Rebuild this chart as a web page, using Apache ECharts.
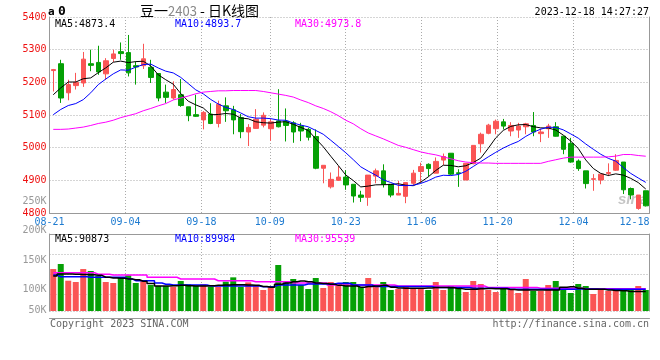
<!DOCTYPE html>
<html><head><meta charset="utf-8">
<script src="https://cdn.jsdelivr.net/npm/echarts@6/dist/echarts.min.js"></script>
<style>html,body{margin:0;padding:0;background:#fff}#c{width:660px;height:360px}</style>
</head><body><div id="c"></div>
<script>
const dates = ['08-21','08-22','08-23','08-24','08-25','08-28','08-29','08-30','08-31','09-01',
'09-04','09-05','09-06','09-07','09-08','09-11','09-12','09-13','09-14','09-15',
'09-18','09-19','09-20','09-21','09-22','09-25','09-26','09-27','09-28','10-09',
'10-10','10-11','10-12','10-13','10-16','10-17','10-18','10-19','10-20','10-23',
'10-24','10-25','10-26','10-27','10-30','10-31','11-01','11-02','11-03','11-06',
'11-07','11-08','11-09','11-10','11-13','11-14','11-15','11-16','11-17','11-20',
'11-21','11-22','11-23','11-24','11-27','11-28','11-29','11-30','12-01','12-04',
'12-05','12-06','12-07','12-08','12-11','12-12','12-13','12-14','12-15','12-18'];
const tickDates = ['08-21','09-04','09-18','10-09','10-23','11-06','11-20','12-04','12-18'];
const priceTicks = [4800, 5400, 100];
const volTicks = [50000, 250000, 50000];

const open  = [5236,5257,5168,5190,5198,5257,5261,5226,5273,5294,5291,5251,5251,5246,5227,5170,5152,5162,5125,5101,
5085,5103,5074,5128,5116,5092,5048,5059,5069,5058,5082,5081,5076,5066,5056,5034,4937,4880,4900,4910,
4888,4855,4848,4913,4929,4888,4855,4851,4891,4927,4949,4922,4962,4983,4923,4901,4951,5012,5044,5058,
5079,5051,5054,5064,5068,5043,5058,5064,5035,5013,4959,4929,4903,4901,4921,4931,4956,4875,4814,4868];
const close = [5239,5152,5193,5200,5271,5252,5232,5266,5287,5288,5229,5247,5272,5215,5152,5154,5178,5129,5098,5096,
5108,5074,5133,5113,5085,5049,5062,5087,5099,5079,5064,5068,5048,5051,5032,4937,4946,4903,4910,4886,
4852,4848,4916,4929,4888,4855,4860,4893,4922,4942,4936,4958,4973,4919,4921,4952,5007,5041,5069,5081,
5066,5068,5066,5073,5048,5048,5066,5035,4995,4956,4936,4890,4905,4919,4924,4961,4871,4855,4855,4822];
const low   = [5172,5137,5145,5178,5186,5234,5223,5208,5262,5269,5218,5193,5241,5198,5142,5137,5147,5125,5081,5094,
5056,5072,5062,5079,5041,5029,5005,5058,5062,5021,5062,5019,5015,5020,5022,4934,4891,4875,4898,4871,
4832,4834,4822,4891,4878,4848,4855,4830,4885,4893,4912,4922,4947,4916,4880,4901,4949,4985,5041,5041,
5056,5035,5030,5041,5035,5017,5030,5034,4980,4954,4929,4875,4868,4888,4913,4929,4858,4842,4810,4820];
const high  = [5241,5269,5208,5229,5293,5300,5312,5274,5300,5322,5345,5264,5318,5269,5227,5193,5203,5210,5125,5162,
5112,5136,5144,5154,5128,5103,5072,5118,5108,5089,5179,5120,5081,5076,5061,5056,4946,4924,4944,4931,
4888,4868,4916,4936,4949,4888,4898,4893,4932,4954,4952,4970,4982,4983,4934,4952,5007,5046,5073,5086,
5088,5078,5076,5076,5109,5058,5073,5078,5035,5030,4964,4929,4919,4919,4952,4980,4956,4878,4855,4868];

const ma5  = [5162,5183,5201,5201,5211,5213.6,5229.6,5244.2,5261.6,5265,5260.4,5263.4,5264.6,5250.2,5223,5208,5194.2,5165.6,5142.2,5131,
5121.6,5100.8,5101.6,5104.6,5102.4,5090.8,5088.4,5079.2,5076.4,5075.2,5078.2,5079.4,5071.6,5062,5052.6,5027.2,5002.8,4973.8,4945.6,4916.4,
4899.4,4879.8,4882.4,4886.2,4886.6,4887.2,4889.6,4885,4883.6,4894.4,4910.6,4930.2,4946.2,4945.6,4941.4,4944.6,4954.4,4968,4998,5030,
5052.8,5065,5070,5070.8,5064.2,5060.6,5060.2,5054,5038.4,5020,4997.6,4962.4,4936.4,4921.2,4914.8,4919.8,4916,4906,4893.2,4873.4];
const ma10 = [5101,5117,5129,5135,5147,5168,5193,5210,5226,5238,5237,5246.5,5254.4,5255.9,5244,5234.2,5228.8,5215.1,5196.2,5177,
5164.8,5147.5,5133.6,5123.4,5116.7,5106.2,5094.6,5090.4,5090.5,5088.8,5084.5,5083.9,5075.4,5069.2,5063.9,5052.7,5041.1,5022.7,5003.8,4984.5,
4963.3,4941.3,4928.1,4915.9,4901.5,4893.3,4884.7,4883.7,4884.9,4890.5,4898.9,4909.9,4915.6,4914.6,4917.9,4927.6,4942.3,4957.1,4971.8,4985.7,
4998.7,5009.7,5019,5034.4,5047.1,5056.7,5062.6,5062,5054.6,5042.1,5029.1,5011.3,4995.2,4979.8,4967.4,4958.7,4939.2,4921.2,4907.2,4893.7];
const ma30 = [5056,5056,5057,5060,5063,5068,5074,5078,5084,5092,5098,5104,5113,5120,5128,5135,5146,5152,5158,5165,
5170,5172,5174,5174,5175,5175,5175,5175,5172,5168,5164,5160,5155,5146,5138,5128,5120,5110,5098,5084,
5073,5058,5045,5036,5027,5017,5007,5001,4994,4987,4982,4978,4972,4966,4960,4956,4954,4953,4953,4952,
4952,4952,4952,4952,4952,4952,4958,4963,4968,4971,4971,4971,4971,4971,4972,4974,4979,4979,4976,4973.8];

const vol = [134700,143200,114900,112700,134700,131400,123400,112700,111000,120000,
124000,111000,114900,107600,105900,105900,104800,114400,108800,105900,
108800,104800,104800,113300,120600,104200,112100,107100,99200,104200,
141500,114400,117800,107600,100800,119500,102500,112700,105900,112700,
112700,104200,119500,104200,112700,99200,100800,105900,102500,102500,
99200,112700,99200,105900,102500,95800,114400,109300,99200,95800,
102500,99200,94100,117800,97500,97500,107600,114400,102500,94100,
109300,105900,92400,99200,97500,102500,99200,99200,105900,99200];
const vma5 = [122900,126300,126300,126000,125500,125000,124000,120700,119500,119000,
118000,116500,114000,110000,106000,106000,106500,107000,106500,106000,
106000,106500,107000,107600,108000,108000,107600,107000,105000,104000,
109000,111000,113000,114400,113000,111000,110000,108800,107000,106000,
105900,104000,105000,106000,107000,104000,102500,102000,102000,102000,
102500,103500,103500,103000,101500,100300,100300,101200,101500,101200,
101200,99800,99200,99200,99200,99200,99200,99200,104000,104500,
102000,100300,100300,100300,99200,98500,98000,96400,96400,96400];
const vma10 = [124600,121700,121700,121700,121700,120700,120700,120700,120700,120700,
118000,115000,115000,115000,111000,109000,107600,107600,107600,107600,
107600,105900,105900,105900,105900,105900,105900,105900,104800,104800,
107600,107600,107600,107600,109300,109300,109300,109300,110500,110500,
107600,107600,107600,105000,105000,105000,105000,105000,105000,105000,
105000,103600,103600,103600,103600,103600,102000,102000,102000,102000,
102000,100300,100300,100300,100300,100300,100300,100300,100300,100300,
101000,101000,101000,100300,100300,100300,100300,100300,100300,100300];
const vma30 = [128500,128500,128500,128500,128500,128500,126000,126000,124600,124600,
124600,124600,124600,120700,120700,120700,120700,117800,117800,117800,
117800,117800,114900,114900,114900,114900,114900,113200,113200,113200,
113200,113200,111000,111000,111000,111000,111000,107600,107600,107600,
107600,107600,107600,107600,107600,107600,105900,105900,105900,105900,
105900,105900,105900,105900,105900,105900,105900,105900,103600,103600,
103600,103600,103600,103600,103600,102000,102000,102000,102000,102000,
102000,101400,101400,101400,101400,101400,101400,101400,101400,101400];

const UP = '#fa5555', DOWN = '#05a005';
const RED = '#ee1111', BLUE = '#1e7bd0', GRAYLBL = '#999999';
const MONO = '"DejaVu Sans Mono", monospace';
const BORDER = '#999999', DOT = '#aaaaaa';

const tickIdx = tickDates.map(d => dates.indexOf(d));
const showTick = (i) => tickIdx.indexOf(i) >= 0;
const candleData = dates.map((d, i) => [open[i], close[i], low[i], high[i]]);
const volData = vol.map((v, i) => ({ value: v, itemStyle: { color: close[i] >= open[i] ? UP : DOWN } }));

const chart = echarts.init(document.getElementById('c'), null, { renderer: 'canvas' });
const hid = { show: false };
const lineAx = { show: true, onZero: false, lineStyle: { color: BORDER, width: 1 } };
const dotSplit = { show: true, lineStyle: { color: DOT, width: 1, type: [1, 2] } };

const option = {
  animation: false,
  backgroundColor: '#fff',
  grid: [
    { left: 49.5, width: 600, top: 17, height: 196 },
    { left: 49.5, width: 600, top: 234, height: 77 },
    { left: 49.5, width: 600, top: 201, height: 118 }
  ],
  xAxis: [
    { gridIndex: 0, type: 'category', data: dates, boundaryGap: true, show: false, position: 'bottom', axisLine: { onZero: false } },
    { gridIndex: 0, type: 'category', data: dates, boundaryGap: false, position: 'bottom',
      axisLine: lineAx, axisTick: hid,
      axisLabel: { interval: (i) => showTick(i), color: BLUE, fontFamily: MONO, fontSize: 10, margin: 4, hideOverlap: false,
        formatter: (v, i) => i === dates.length - 1 ? '{r|' + v + '}' : v,
        rich: { r: { padding: [0, 30, 0, 0], color: BLUE, fontFamily: MONO, fontSize: 10 } } },
      splitLine: { show: true, interval: (i) => showTick(i), lineStyle: { color: DOT, width: 1, type: [1, 2] } } },
    { gridIndex: 1, type: 'category', data: dates, boundaryGap: true, show: false, position: 'bottom', axisLine: { onZero: false } },
    { gridIndex: 1, type: 'category', data: dates, boundaryGap: false, position: 'bottom', offset: 7,
      axisLine: lineAx, axisTick: hid, axisLabel: hid,
      splitLine: { show: true, interval: (i) => showTick(i), lineStyle: { color: DOT, width: 1, type: [1, 2] } } },
    { gridIndex: 1, type: 'category', data: dates, boundaryGap: false, position: 'top',
      axisLine: lineAx, axisTick: hid, axisLabel: hid, splitLine: hid },
    { gridIndex: 2, type: 'category', data: dates, show: false, position: 'bottom', axisLine: { onZero: false } }
  ],
  yAxis: [
    { gridIndex: 0, type: 'value', position: 'left', min: priceTicks[0], max: priceTicks[1], interval: priceTicks[2],
      axisLine: lineAx, axisTick: hid,
      axisLabel: { color: RED, fontFamily: MONO, fontSize: 10, margin: 3, hideOverlap: false, formatter: (v) => String(v) },
      splitLine: dotSplit },
    { gridIndex: 0, type: 'value', position: 'right', min: priceTicks[0], max: priceTicks[1],
      axisLine: lineAx, axisTick: hid, axisLabel: hid, splitLine: hid },
    { gridIndex: 1, type: 'value', position: 'left', min: 63560, max: 194070,
      axisLine: lineAx, axisTick: hid, axisLabel: hid, splitLine: hid },
    { gridIndex: 1, type: 'value', position: 'left', inverse: true, min: 0, max: 77, interval: 20,
      axisLine: { show: false, onZero: false }, axisTick: hid, axisLabel: hid, splitLine: dotSplit },
    { gridIndex: 1, type: 'value', position: 'right', min: 0, max: 1,
      axisLine: lineAx, axisTick: hid, axisLabel: hid, splitLine: hid },
    { gridIndex: 2, type: 'value', position: 'left', min: volTicks[0], max: volTicks[1], interval: volTicks[2],
      axisLine: { show: false, onZero: false }, axisTick: hid, splitLine: hid,
      axisLabel: { color: GRAYLBL, fontFamily: MONO, fontSize: 10, margin: 3, hideOverlap: false, showMinLabel: true, showMaxLabel: true,
        formatter: (v) => v === volTicks[0] ? '{m|' + (v / 1000) + 'K}' : (v / 1000) + 'K',
        rich: { m: { padding: [0, 0, 18, 0], color: GRAYLBL, fontFamily: MONO, fontSize: 10 } } } }
  ],
  series: [
    { type: 'candlestick', xAxisIndex: 0, yAxisIndex: 0, data: candleData, barWidth: 5,
      itemStyle: { color: UP, color0: DOWN, borderColor: UP, borderColor0: DOWN, borderWidth: 1 }, z: 3 },
    { type: 'line', xAxisIndex: 0, yAxisIndex: 0, data: ma5, symbol: 'none', lineStyle: { color: '#000', width: 1 }, z: 4 },
    { type: 'line', xAxisIndex: 0, yAxisIndex: 0, data: ma10, symbol: 'none', lineStyle: { color: '#0000ff', width: 1 }, z: 4 },
    { type: 'line', xAxisIndex: 0, yAxisIndex: 0, data: ma30, symbol: 'none', lineStyle: { color: '#ff00ff', width: 1 }, z: 4 },
    { type: 'bar', xAxisIndex: 2, yAxisIndex: 2, data: volData, barWidth: 6, z: 3 },
    { type: 'line', xAxisIndex: 2, yAxisIndex: 2, data: vma30, step: 'middle', symbol: 'none', lineStyle: { color: '#ff00ff', width: 1.5 }, z: 4 },
    { type: 'line', xAxisIndex: 2, yAxisIndex: 2, data: vma10, step: 'middle', symbol: 'none', lineStyle: { color: '#0000ff', width: 1.5 }, z: 4 },
    { type: 'line', xAxisIndex: 2, yAxisIndex: 2, data: vma5, step: 'middle', symbol: 'none', lineStyle: { color: '#000', width: 1.5 }, z: 4 }
  ],
  graphic: [
    { type: 'text', x: 48, y: 12, style: { text: '{a|a} {b|0}', textVerticalAlign: 'middle',
      rich: { a: { fontFamily: MONO, fontSize: 11, fill: '#000', fontWeight: 'bold' }, b: { fontFamily: MONO, fontSize: 13, fill: '#000', fontWeight: 'bold' } } } },
    { type: 'text', x: 140, y: 11, style: { text: '{b|豆一}{g|2403}{b| - 日K线图}', textVerticalAlign: 'middle',
      rich: { b: { fontFamily: '"Noto Sans CJK SC"', fontSize: 14, fill: '#000' }, g: { fontFamily: '"Noto Sans CJK SC"', fontSize: 13, fill: '#888' } } } },
    { type: 'text', x: 649, y: 12, style: { text: '2023-12-18 14:27:27', font: '10px ' + MONO, fill: '#000', textAlign: 'right', textVerticalAlign: 'middle' } },
    { type: 'text', x: 55, y: 24, style: { text: 'MA5:4873.4', font: '10px ' + MONO, fill: '#000', textVerticalAlign: 'middle' }, z: 10 },
    { type: 'text', x: 175, y: 24, style: { text: 'MA10:4893.7', font: '10px ' + MONO, fill: '#0000ff', textVerticalAlign: 'middle' }, z: 10 },
    { type: 'text', x: 295, y: 24, style: { text: 'MA30:4973.8', font: '10px ' + MONO, fill: '#ff00ff', textVerticalAlign: 'middle' }, z: 10 },
    { type: 'text', x: 55, y: 239, style: { text: 'MA5:90873', font: '10px ' + MONO, fill: '#000', textVerticalAlign: 'middle' }, z: 10 },
    { type: 'text', x: 175, y: 239, style: { text: 'MA10:89984', font: '10px ' + MONO, fill: '#0000ff', textVerticalAlign: 'middle' }, z: 10 },
    { type: 'text', x: 295, y: 239, style: { text: 'MA30:95539', font: '10px ' + MONO, fill: '#ff00ff', textVerticalAlign: 'middle' }, z: 10 },
    { type: 'text', x: 50, y: 324, style: { text: 'Copyright 2023 SINA.COM', font: '10px ' + MONO, fill: '#666', textVerticalAlign: 'middle' } },
    { type: 'text', x: 649, y: 324, style: { text: 'http://finance.sina.com.cn', font: '10px ' + MONO, fill: '#666', textAlign: 'right', textVerticalAlign: 'middle' } },
    { type: 'text', x: 618, y: 200, style: { text: 'sina', font: 'italic bold 15px "Liberation Sans"', fill: 'rgba(150,150,150,0.55)', textVerticalAlign: 'middle' }, z: 1 }
  ]
};
chart.setOption(option);
</script>
</body></html>
